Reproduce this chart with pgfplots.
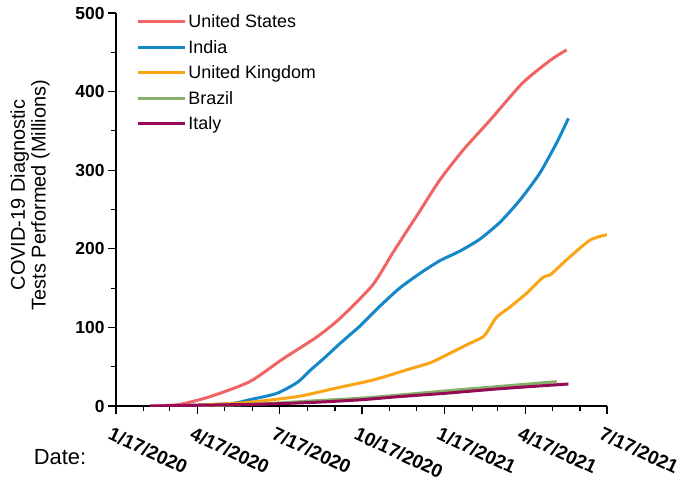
\documentclass[border=0pt]{standalone}
\usepackage{pgfplots}
\pgfplotsset{compat=1.18}
\usepackage{fontspec}
\setmainfont{Liberation Sans}
\definecolor{cUS}{RGB}{240,100,100}
\definecolor{cIN}{RGB}{20,135,200}
\definecolor{cUK}{RGB}{250,165,20}
\definecolor{cBR}{RGB}{135,175,105}
\definecolor{cIT}{RGB}{150,10,85}
\begin{document}
\begin{tikzpicture}
\begin{axis}[
  scale only axis, width=491bp, height=393bp,
  xmin=0, xmax=547, ymin=0, ymax=500,
  axis x line=bottom, axis y line=left,
  axis line style={-, line width=1.3bp, black},
  xtick={0,91,182,274,366,456,547},
  xticklabels={1/17/2020,4/17/2020,7/17/2020,10/17/2020,1/17/2021,4/17/2021,7/17/2021},
  minor xtick={31,60,121,152,213,244,305,335,397,425,486,517},
  ytick={0,100,200,300,400,500},
  minor ytick={50,150,250,350,450},
  tick align=outside, major tick length=8bp, minor tick length=5bp,
  every tick/.style={black, line width=1.2bp},
  /pgf/number format/assume math mode=true,
  xticklabel style={font=\fontsize{19}{22}\selectfont\bfseries, rotate=-25, anchor=north west, xshift=-1bp, yshift=-9bp},
  yticklabel style={font=\fontsize{17.5}{20}\selectfont\bfseries},
  ylabel={COVID-19 Diagnostic\\Tests Performed (Millions)},
  every axis y label/.style={at={(axis description cs:-0.175,0.537)}, rotate=90, anchor=center, align=center, font=\fontsize{20}{21}\selectfont},
  legend style={at={(rel axis cs:0.036,1.005)}, anchor=north west, draw=none, fill=none, font=\fontsize{18}{21}\selectfont, row sep=8bp, nodes={inner sep=1.5bp}},
  legend cell align=left,
  legend image code/.code={\draw[#1] (0bp,0bp) -- (47bp,0bp);},
  every axis plot/.append style={line width=3bp, no markers, smooth, tension=0.4},
]
\addplot[cUS] coordinates {
(43,0) (71,2) (105,12) (149,31) (186,60) (224,88) (250,112) (286,154) (309,196) (339,249) (361,288) (387,326) (417,364) (453,411) (484,440) (502,453)};
\addlegendentry{United States}
\addplot[cIN] coordinates {
(60,0) (127,3) (149,8) (179,16) (202,30) (216,45) (231,60) (250,80) (272,102) (294,127) (316,150) (339,169) (361,185) (383,197) (405,212) (428,234) (450,262) (472,296) (491,335) (504,366)};
\addlegendentry{India}
\addplot[cUK] coordinates {
(71,0) (141,4) (202,12) (246,23) (286,33) (324,46) (350,55) (372,67) (391,78) (409,88) (415,97) (424,113) (439,126) (458,144) (476,164) (484,167) (502,186) (528,211) (547,218)};
\addlegendentry{United Kingdom}
\addplot[cBR] coordinates {
(94,0) (149,2) (183,4) (227,7) (274,10) (316,14) (365,19) (428,25) (491,31)};
\addlegendentry{Brazil}
\addplot[cIT] coordinates {
(38,0) (94,1) (149,2) (183,3) (227,5) (274,8) (316,12) (365,16) (428,22) (504,28)};
\addlegendentry{Italy}
\end{axis}
\node[font=\fontsize{22}{24}\selectfont] at (-56bp,-51bp) {Date:};
\pgfresetboundingbox
\path[use as bounding box] (-116bp,-80bp) rectangle (569bp,406bp);
\end{tikzpicture}
\end{document}
